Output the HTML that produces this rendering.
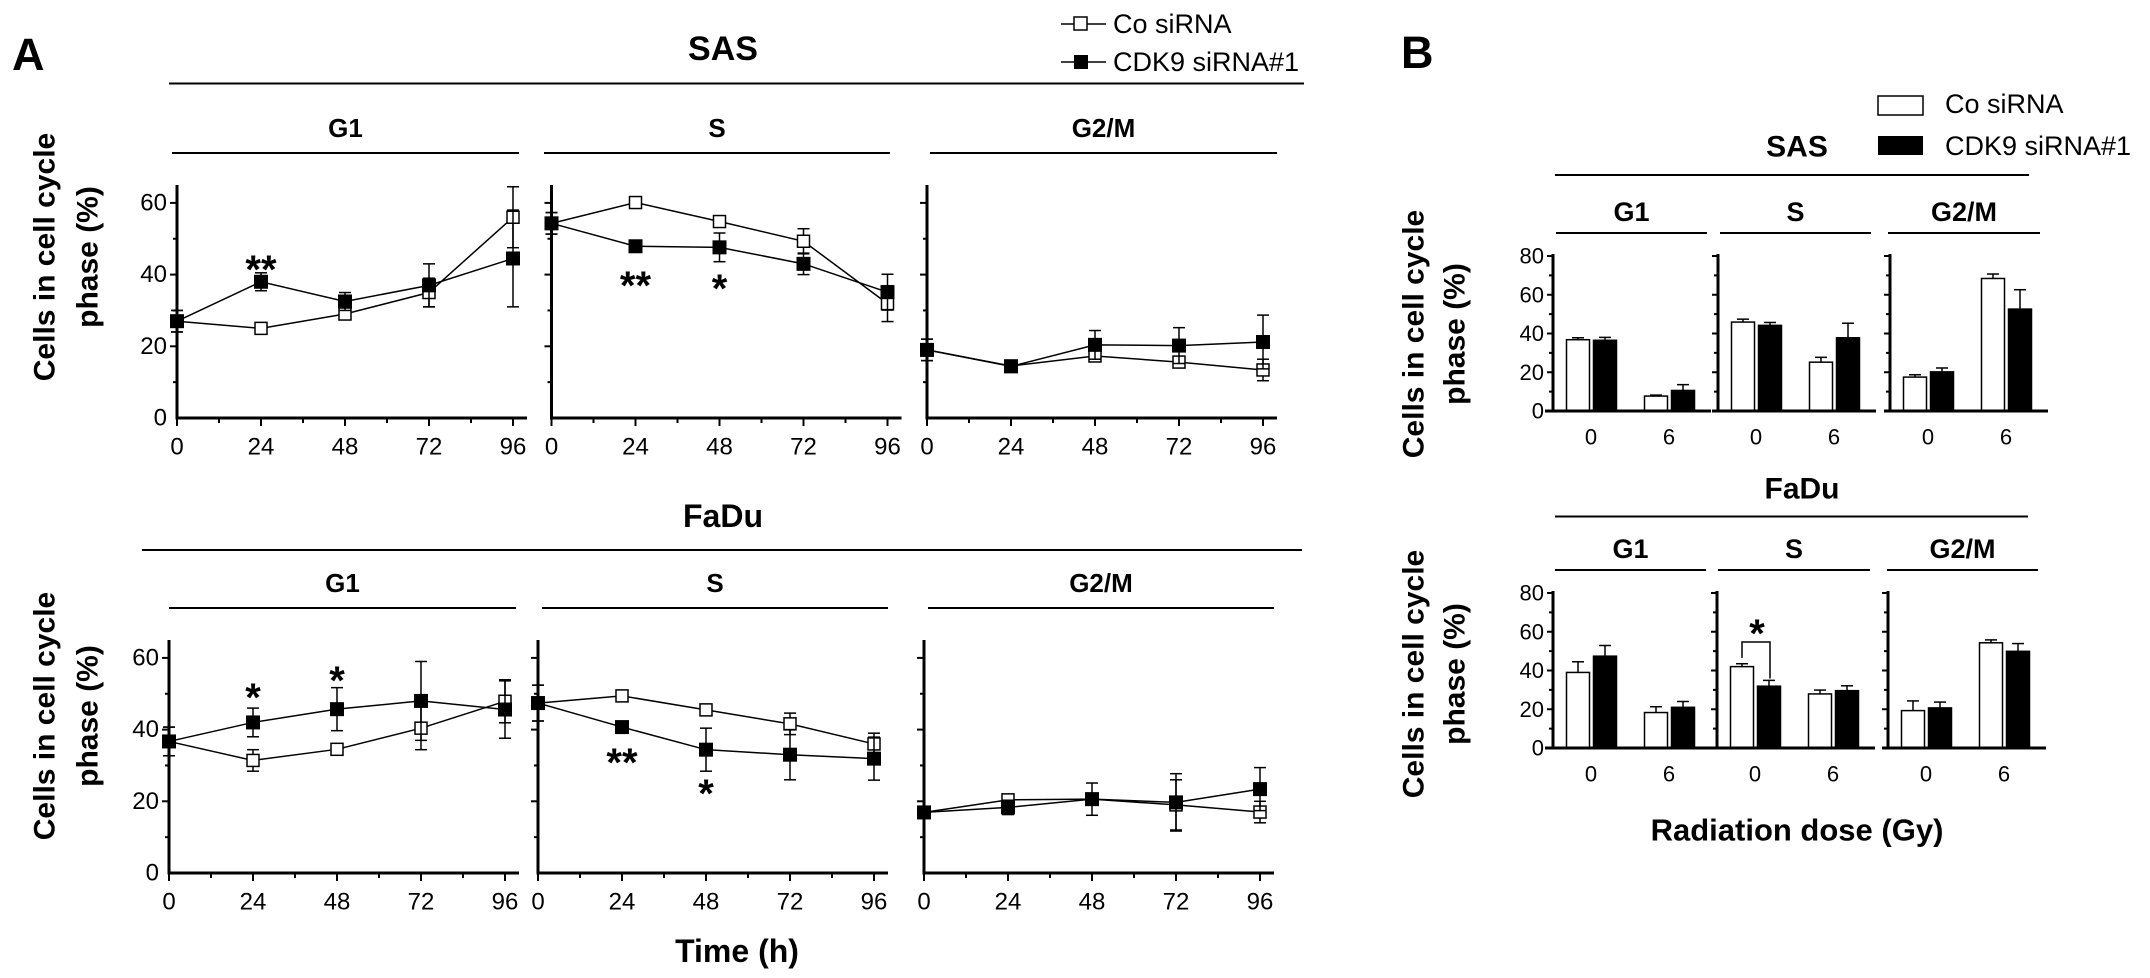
<!DOCTYPE html>
<html><head><meta charset="utf-8">
<style>
html,body{margin:0;padding:0;background:#fff;}
svg{display:block;font-family:"Liberation Sans",Arial,sans-serif;}
</style></head>
<body>
<svg id="fig" width="2150" height="978" viewBox="0 0 2150 978" xmlns="http://www.w3.org/2000/svg">
<g id="static">
<text x="12" y="70" font-size="45" font-weight="bold">A</text>
<text x="1401" y="68" font-size="45" font-weight="bold">B</text>
<text x="723" y="49" font-size="34" font-weight="bold" text-anchor="middle" dominant-baseline="central">SAS</text>
<line x1="169" y1="83.5" x2="1304" y2="83.5" stroke="#000" stroke-width="2"/>
<text x="723" y="516" font-size="32" font-weight="bold" text-anchor="middle" dominant-baseline="central">FaDu</text>
<line x1="142" y1="550" x2="1302" y2="550" stroke="#000" stroke-width="2"/>
<text x="737" y="951" font-size="32" font-weight="bold" text-anchor="middle" dominant-baseline="central">Time (h)</text>
<g transform="translate(45,257) rotate(-90)" font-size="30" font-weight="bold" text-anchor="middle">
<text x="0" y="0" dominant-baseline="central">Cells in cell cycle</text>
<text x="0" y="43" dominant-baseline="central">phase (%)</text>
</g>
<g transform="translate(45,716) rotate(-90)" font-size="30" font-weight="bold" text-anchor="middle">
<text x="0" y="0" dominant-baseline="central">Cells in cell cycle</text>
<text x="0" y="43" dominant-baseline="central">phase (%)</text>
</g>
<g>
<line x1="1061" y1="24" x2="1106" y2="24" stroke="#000" stroke-width="1.5"/>
<rect x="1074" y="17" width="13" height="13" fill="#fff" stroke="#000" stroke-width="1.5"/>
<text x="1113" y="24" font-size="27" dominant-baseline="central">Co siRNA</text>
<line x1="1061" y1="62" x2="1106" y2="62" stroke="#000" stroke-width="1.5"/>
<rect x="1074" y="55" width="14" height="14" fill="#000"/>
<text x="1113" y="62" font-size="27" dominant-baseline="central">CDK9 siRNA#1</text>
</g>
<text x="1797" y="147" font-size="30" font-weight="bold" text-anchor="middle" dominant-baseline="central">SAS</text>
<line x1="1555" y1="175" x2="2029" y2="175" stroke="#000" stroke-width="2"/>
<text x="1802" y="489" font-size="30" font-weight="bold" text-anchor="middle" dominant-baseline="central">FaDu</text>
<line x1="1555" y1="516.5" x2="2028" y2="516.5" stroke="#000" stroke-width="2"/>
<text x="1797" y="830" font-size="31" font-weight="bold" text-anchor="middle" dominant-baseline="central">Radiation dose (Gy)</text>
<g transform="translate(1414,334) rotate(-90)" font-size="30" font-weight="bold" text-anchor="middle">
<text x="0" y="0" dominant-baseline="central">Cells in cell cycle</text>
<text x="0" y="41" dominant-baseline="central">phase (%)</text>
</g>
<g transform="translate(1414,674) rotate(-90)" font-size="30" font-weight="bold" text-anchor="middle">
<text x="0" y="0" dominant-baseline="central">Cells in cell cycle</text>
<text x="0" y="41" dominant-baseline="central">phase (%)</text>
</g>
<g>
<rect x="1878" y="96" width="45" height="19" fill="#fff" stroke="#000" stroke-width="1.5"/>
<text x="1945" y="104" font-size="27" dominant-baseline="central">Co siRNA</text>
<rect x="1878" y="136" width="45" height="19" fill="#000"/>
<text x="1945" y="146" font-size="27" dominant-baseline="central">CDK9 siRNA#1</text>
</g>
</g>
<g id="dyn"></g>
</svg>
<script>
// ---- Panel A data (time course) ----
const timePoints = [0, 24, 48, 72, 96];
const timeTickLabels = ["0", "24", "48", "72", "96"];
const yTicksA = [0, 20, 40, 60];
const sasG1Co = [27, 25, 29, 35, 56];
const sasG1CoErr = [3, 1, 1, 4, 8.5];
const sasG1Kd = [27, 38, 32.5, 37, 44.5];
const sasG1KdErr = [3, 2.5, 2.5, 6, 13.5];
const sasSCo = [54.3, 60.1, 54.8, 49.3, 31.9];
const sasSCoErr = [3, 1.5, 1, 3.5, 5];
const sasSKd = [54.3, 47.9, 47.6, 43, 35.1];
const sasSKdErr = [3, 0.5, 4, 3, 5];
const sasGMCo = [19, 14.5, 17.3, 15.6, 13.4];
const sasGMCoErr = [3, 1, 1.5, 1.5, 3];
const sasGMKd = [19, 14.4, 20.4, 20.2, 21.2];
const sasGMKdErr = [3, 1.5, 4, 5, 7.5];
const faduG1Co = [36.7, 31.4, 34.5, 40.4, 47.9];
const faduG1CoErr = [4, 3, 1, 6, 6];
const faduG1Kd = [36.7, 42, 45.7, 48, 45.6];
const faduG1KdErr = [4, 4, 6, 11, 8];
const faduSCo = [47.4, 49.4, 45.5, 41.6, 36];
const faduSCoErr = [5, 1, 1, 3, 3];
const faduSKd = [47.4, 40.7, 34.4, 33, 31.9];
const faduSKdErr = [5, 1.5, 6, 7, 6];
const faduGMCo = [16.9, 20.4, 20.6, 19, 17];
const faduGMCoErr = [1, 1, 1, 7, 3];
const faduGMKd = [16.9, 18.3, 20.6, 19.7, 23.4];
const faduGMKdErr = [1, 2, 4.5, 8, 6];

// ---- Panel B data (radiation) ----
const doseLabels = ["0", "6"];
const yTicksB = [0, 20, 40, 60, 80];
const bSasG1Co = [36.8, 7.7], bSasG1CoErr = [1, 0.5];
const bSasG1Kd = [36.5, 10.6], bSasG1KdErr = [1.5, 3];
const bSasSCo = [45.9, 25.2], bSasSCoErr = [1.5, 2.5];
const bSasSKd = [44.2, 37.8], bSasSKdErr = [1.5, 7.5];
const bSasGMCo = [17.5, 68.4], bSasGMCoErr = [1.2, 2.3];
const bSasGMKd = [20.2, 52.6], bSasGMKdErr = [2, 10];
const bFaduG1Co = [39, 18.3], bFaduG1CoErr = [5.5, 3];
const bFaduG1Kd = [47.4, 21], bFaduG1KdErr = [5.5, 3];
const bFaduSCo = [42, 27.9], bFaduSCoErr = [1.5, 2];
const bFaduSKd = [31.9, 29.6], bFaduSKdErr = [3, 2.5];
const bFaduGMCo = [19.3, 54.3], bFaduGMCoErr = [5, 1.5];
const bFaduGMKd = [20.7, 49.9], bFaduGMKdErr = [3, 4];

const NS = "http://www.w3.org/2000/svg";
const root = document.getElementById('dyn');
function mk(tag, attrs, parent) {
  const e = document.createElementNS(NS, tag);
  for (const k in attrs) e.setAttribute(k, attrs[k]);
  (parent || root).appendChild(e);
  return e;
}
function txt(parent, x, y, s, size, bold, anchor) {
  const t = mk('text', {x: x, y: y, 'font-size': size, 'text-anchor': anchor || 'middle', 'dominant-baseline': 'central'}, parent);
  if (bold) t.setAttribute('font-weight', 'bold');
  t.textContent = s;
  return t;
}

function linePanel(name, ox, oy, showY, title, lineX1, lineX2, co, coE, kd, kdE, stars) {
  const g = mk('g', {});
  
  
  const xs = v => ox + v * 336 / 96;
  const ys = v => oy - v * 3.585;
  txt(g, (lineX1 + lineX2) / 2, oy - 290, title, 26, true);
  mk('line', {x1: lineX1, x2: lineX2, y1: oy - 265, y2: oy - 265, stroke: '#000', 'stroke-width': 2}, g);
  const ax = mk('g', {}, g);
  
  
  mk('line', {x1: ox, x2: ox, y1: ys(65), y2: oy + 1.5, stroke: '#000', 'stroke-width': 3}, ax);
  mk('line', {x1: ox - 1.5, x2: xs(96) + 14, y1: oy, y2: oy, stroke: '#000', 'stroke-width': 3}, ax);
  for (let v = 10; v <= 60; v += 10) {
    const major = v % 20 === 0;
    mk('line', {x1: ox - (major ? 7 : 4), x2: ox, y1: ys(v), y2: ys(v), stroke: '#000', 'stroke-width': 2}, ax);
  }
  for (let t = 0; t <= 96; t += 12) {
    const major = t % 24 === 0;
    mk('line', {x1: xs(t), x2: xs(t), y1: oy, y2: oy + (major ? 8 : 5), stroke: '#000', 'stroke-width': 2}, ax);
  }
  if (showY) {
    yTicksA.forEach(v => {
      const t = txt(ax, ox - 10, ys(v), String(v), 24, false, 'end');
      
      
    });
  }
  timePoints.forEach((tp, i) => {
    const t = txt(ax, xs(tp), oy + 29, timeTickLabels[i], 24, false);
    
    
  });
  function series(vals, errs, filled, sname) {
    const sg = mk('g', {}, g);
    
    
    const pts = timePoints.map((t, i) => xs(t) + ',' + ys(vals[i])).join(' ');
    mk('polyline', {points: pts, fill: 'none', stroke: '#000', 'stroke-width': 1.5}, sg);
    timePoints.forEach((t, i) => {
      const x = xs(t), y = ys(vals[i]), e = errs[i] * 3.585;
      mk('line', {x1: x, x2: x, y1: y - e, y2: y + e, stroke: '#000', 'stroke-width': 1.5}, sg);
      mk('line', {x1: x - 6, x2: x + 6, y1: y - e, y2: y - e, stroke: '#000', 'stroke-width': 1.5}, sg);
      mk('line', {x1: x - 6, x2: x + 6, y1: y + e, y2: y + e, stroke: '#000', 'stroke-width': 1.5}, sg);
    });
    timePoints.forEach((t, i) => {
      const x = xs(t), y = ys(vals[i]);
      const r = filled ? mk('rect', {x: x - 7, y: y - 7, width: 14, height: 14, fill: '#000'}, sg)
                       : mk('rect', {x: x - 6, y: y - 6, width: 12, height: 12, fill: '#fff', stroke: '#000', 'stroke-width': 1.5}, sg);
      
      
    });
  }
  series(co, coE, false, name + '-co-sirna');
  series(kd, kdE, true, name + '-cdk9-sirna');
  stars.forEach(s => {
    const t = txt(g, xs(s[0]), s[1] + 8, s[2], 40, true);
    
    
  });
}

linePanel('sas-g1-chart', 177, 418, true, 'G1', 172, 519, sasG1Co, sasG1CoErr, sasG1Kd, sasG1KdErr, [[24, 262, '**']]);
linePanel('sas-s-chart', 551.5, 418, false, 'S', 544, 890, sasSCo, sasSCoErr, sasSKd, sasSKdErr, [[24, 278, '**'], [48, 281, '*']]);
linePanel('sas-g2m-chart', 927, 418, false, 'G2/M', 930, 1277, sasGMCo, sasGMCoErr, sasGMKd, sasGMKdErr, []);
linePanel('fadu-g1-chart', 169, 873, true, 'G1', 169, 516, faduG1Co, faduG1CoErr, faduG1Kd, faduG1KdErr, [[24, 690, '*'], [48, 673, '*']]);
linePanel('fadu-s-chart', 538, 873, false, 'S', 542, 888, faduSCo, faduSCoErr, faduSKd, faduSKdErr, [[24, 755, '**'], [48, 786, '*']]);
linePanel('fadu-g2m-chart', 924, 873, false, 'G2/M', 928, 1274, faduGMCo, faduGMCoErr, faduGMKd, faduGMKdErr, []);

function barPanel(name, ox, oy, showY, title, lineX1, lineX2, co, coE, kd, kdE) {
  const g = mk('g', {});
  
  
  const k = 155 / 80;
  const ys = v => oy - v * k;
  txt(g, (lineX1 + lineX2) / 2, oy - 199, title, 27, true);
  mk('line', {x1: lineX1, x2: lineX2, y1: oy - 178, y2: oy - 178, stroke: '#000', 'stroke-width': 2}, g);
  const groupOff = [25, 103];
  doseLabels.forEach((d, i) => {
    const x0 = ox + groupOff[i];
    [[co, coE, '#fff', 0, 'co-sirna'], [kd, kdE, '#000', 27, 'cdk9-sirna']].forEach(s => {
      const v = s[0][i], e = s[1][i];
      const cx = x0 + s[3];
      const b = mk('rect', {x: cx - 11.5, y: ys(v), width: 23, height: v * k, fill: s[2], stroke: '#000', 'stroke-width': 1.5}, g);
      
      
      mk('line', {x1: cx, x2: cx, y1: ys(v), y2: ys(v + e), stroke: '#000', 'stroke-width': 1.5}, g);
      mk('line', {x1: cx - 6, x2: cx + 6, y1: ys(v + e), y2: ys(v + e), stroke: '#000', 'stroke-width': 1.5}, g);
    });
    const t = txt(g, ox + groupOff[i] + 13, oy + 26, d, 22, false);
    
    
  });
  mk('line', {x1: ox, x2: ox, y1: ys(80) - 2, y2: oy + 1.5, stroke: '#000', 'stroke-width': 3}, g);
  mk('line', {x1: ox - (showY ? 8 : 6), x2: ox + 158, y1: oy, y2: oy, stroke: '#000', 'stroke-width': 3}, g);
  for (let v = 10; v <= 80; v += 10) {
    const major = v % 20 === 0;
    mk('line', {x1: ox - (major ? 6 : 4), x2: ox, y1: ys(v), y2: ys(v), stroke: '#000', 'stroke-width': 2}, g);
  }
  if (showY) {
    yTicksB.forEach(v => {
      const t = txt(g, ox - 9, ys(v), String(v), 22, false, 'end');
      
      
    });
  }
  return {g: g, ys: ys};
}

barPanel('b-sas-g1-chart', 1553, 411, true, 'G1', 1556, 1707, bSasG1Co, bSasG1CoErr, bSasG1Kd, bSasG1KdErr);
barPanel('b-sas-s-chart', 1718, 411, false, 'S', 1720, 1871, bSasSCo, bSasSCoErr, bSasSKd, bSasSKdErr);
barPanel('b-sas-g2m-chart', 1890, 411, false, 'G2/M', 1888, 2040, bSasGMCo, bSasGMCoErr, bSasGMKd, bSasGMKdErr);
barPanel('b-fadu-g1-chart', 1553, 748, true, 'G1', 1555, 1706, bFaduG1Co, bFaduG1CoErr, bFaduG1Kd, bFaduG1KdErr);
const fs = barPanel('b-fadu-s-chart', 1717, 748, false, 'S', 1718, 1870, bFaduSCo, bFaduSCoErr, bFaduSKd, bFaduSKdErr);
barPanel('b-fadu-g2m-chart', 1888, 748, false, 'G2/M', 1887, 2038, bFaduGMCo, bFaduGMCoErr, bFaduGMKd, bFaduGMKdErr);

const br = mk('polyline', {points: (1742) + ',' + fs.ys(bFaduSCo[0] + bFaduSCoErr[0] + 3) + ' 1742,642 1770,642 1770,' + fs.ys(bFaduSKd[0] + bFaduSKdErr[0] + 1), fill: 'none', stroke: '#000', 'stroke-width': 1.5});


const st = txt(root, 1757, 634, '*', 40, true);


</script>
</body></html>
